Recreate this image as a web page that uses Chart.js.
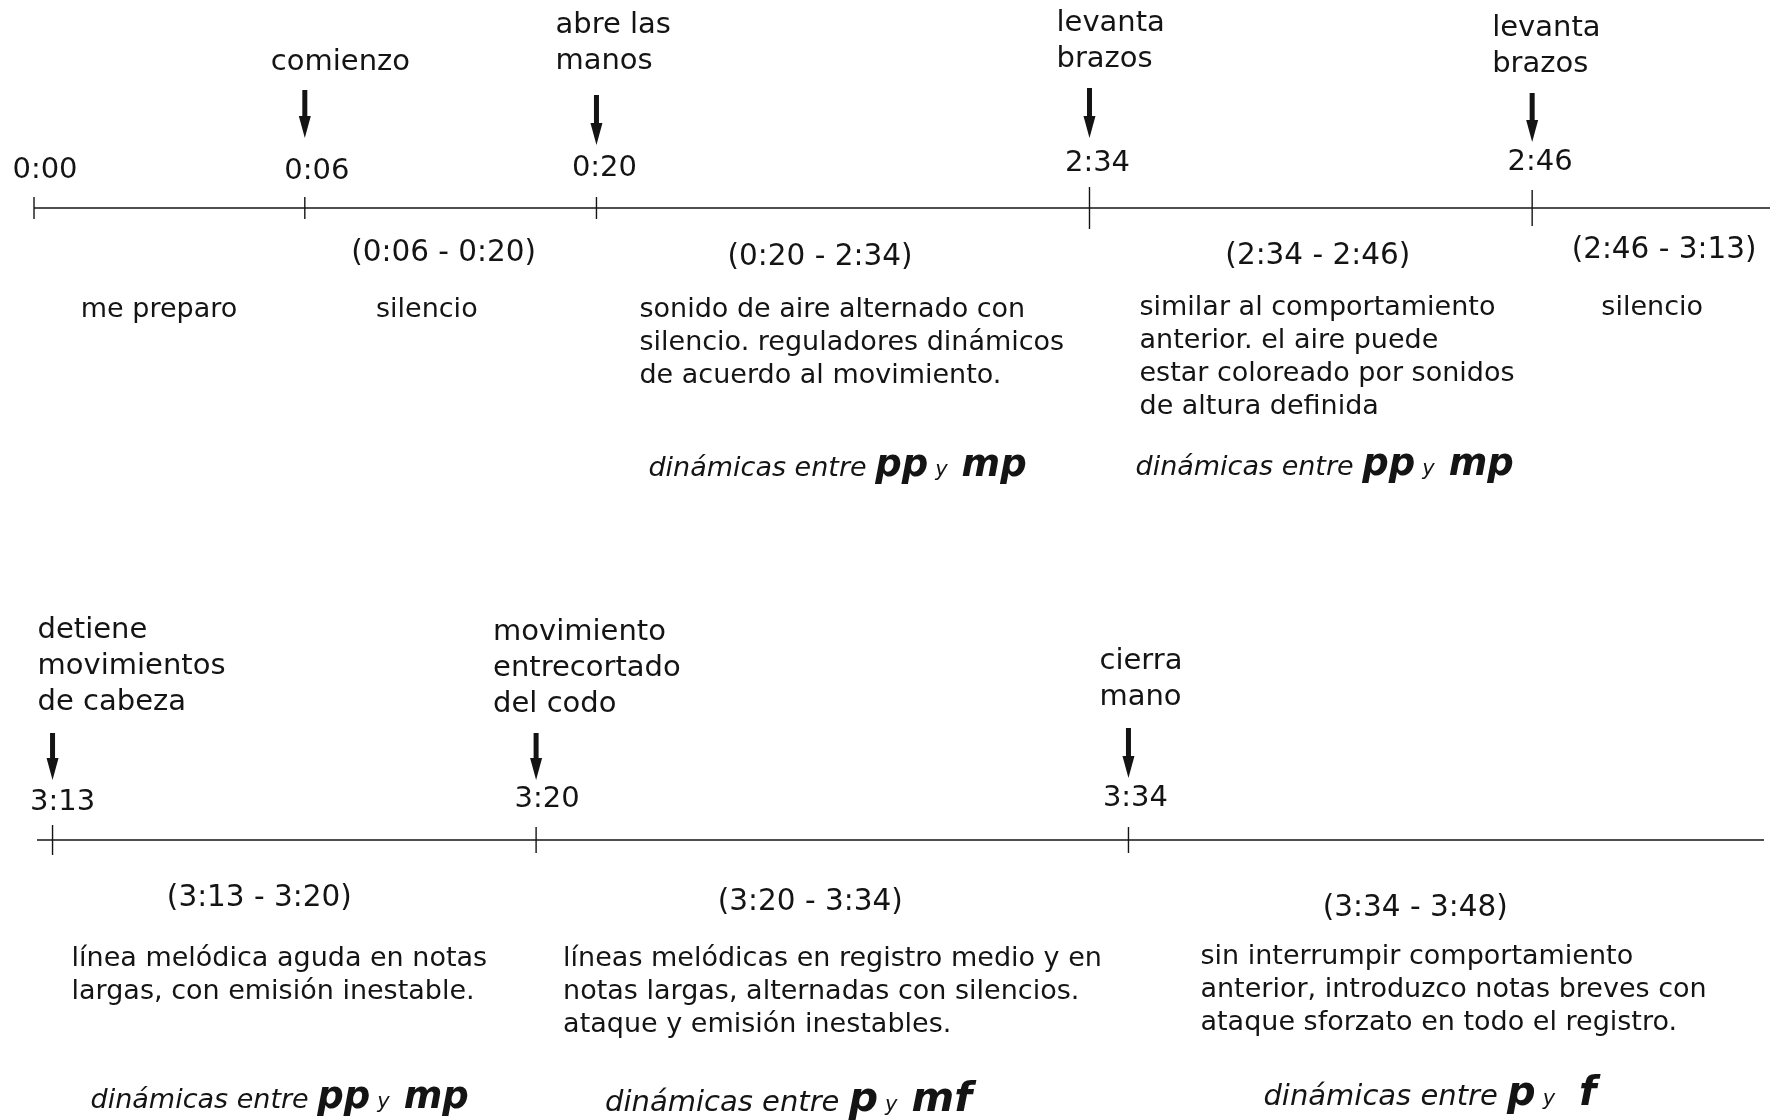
<!DOCTYPE html>
<html>
<head>
<meta charset="utf-8">
<script src="https://cdn.jsdelivr.net/npm/chart.js@4.4.1/dist/chart.umd.min.js"></script>
<style>
  body { margin: 0; background: #fff; }
  canvas { display: block; }
</style>
</head>
<body>
<canvas id="topRow" width="1773" height="560"></canvas>
<canvas id="lowRow" width="1773" height="560"></canvas>
<script>
// fila de arriba: 0:00 - 3:13
const topTimes = ['0:00', '0:06', '0:20', '2:34', '2:46'];
const topAt = [0, 15.6, 32.4, 60.8, 86.3]; // posición sobre la línea (0-100)
const topCues = [[], ['comienzo'], ['abre las', 'manos'], ['levanta', 'brazos'], ['levanta', 'brazos']];
const topSpans = ['', '(0:06 - 0:20)', '(0:20 - 2:34)', '(2:34 - 2:46)', '(2:46 - 3:13)'];
const topNotes = [
  ['me preparo'],
  ['silencio'],
  ['sonido de aire alternado con', 'silencio. reguladores dinámicos', 'de acuerdo al movimiento.'],
  ['similar al comportamiento', 'anterior. el aire puede', 'estar coloreado por sonidos', 'de altura definida'],
  ['silencio']
];
const topDyn = [null, null, ['pp', 'mp'], ['pp', 'mp'], null];

// fila de abajo: 3:13 - 3:48
const lowTimes = ['3:13', '3:20', '3:34'];
const lowAt = [0.9, 28.9, 63.2];
const lowCues = [['detiene', 'movimientos', 'de cabeza'], ['movimiento', 'entrecortado', 'del codo'], ['cierra', 'mano']];
const lowSpans = ['(3:13 - 3:20)', '(3:20 - 3:34)', '(3:34 - 3:48)'];
const lowNotes = [
  ['línea melódica aguda en notas', 'largas, con emisión inestable.'],
  ['líneas melódicas en registro medio y en', 'notas largas, alternadas con silencios.', 'ataque y emisión inestables.'],
  ['sin interrumpir comportamiento', 'anterior, introduzco notas breves con', 'ataque sforzato en todo el registro.']
];
const lowDyn = [['pp', 'mp'], ['p', 'mf'], ['p', 'f']];

// ajustes de dibujo (px respecto a la marca / la línea)
const topLook = {
  pad: { left: 34, right: 3, top: 158, bottom: 302 },
  tickLen: [11, 11, 11, 21, 18],
  stampDx: [11, 12, 8, 8, 8], stampDy: [-38, -37, -40, -45, -46],
  arrow: [false, true, true, true, true],
  arrowTop: [0, -118, -113, -120, -115], arrowTip: [0, -70, -63, -70, -66],
  cueDx: [0, -34, -41, -33, -40], cueDy: [0, -146, -147, -149, -144],
  spanDx: [0, -7, -23, 7, 13], spanDy: [0, 45, 49, 48, 42],
  noteAlign: ['center', 'center', 'left', 'left', 'center'],
  noteDx: [125, 122, 43, 50, 120], noteDy: [102, 102, 102, 100, 100],
  dynDx: [0, 0, 52, 46, 0], dynDy: [0, 0, 259, 258, 0],
  dynText: [27, 27, 27, 27, 27], dynBold: [37, 37, 37, 37, 37], dynGap: [14, 14, 14, 14, 14]
};
const lowLook = {
  pad: { left: 37, right: 9, top: 230, bottom: 230 },
  tickLen: [15, 13, 13],
  stampDx: [10, 11, 7], stampDy: [-38, -41, -42],
  arrow: [true, true, true],
  arrowTop: [-107, -107, -112], arrowTip: [-60, -60, -62],
  cueDx: [-15, -43, -29], cueDy: [-138, -136, -143],
  spanDx: [-35, -22, -31], spanDy: [58, 62, 68],
  noteAlign: ['left', 'left', 'left'],
  noteDx: [19, 27, 72], noteDy: [119, 119, 117],
  dynDx: [38, 69, 135], dynDy: [259, 262, 256],
  dynText: [27, 29, 29], dynBold: [37, 41, 40], dynGap: [14, 14, 24]
};

const INK = '#141414';
const FONT = '"DejaVu Sans", Verdana, sans-serif';

function drawArrow(ctx, x, top, tip) {
  ctx.fillStyle = INK;
  ctx.fillRect(x - 2.5, top, 5, tip - top - 14);
  ctx.beginPath();
  ctx.moveTo(x - 6, tip - 22);
  ctx.lineTo(x + 6, tip - 22);
  ctx.lineTo(x, tip);
  ctx.closePath();
  ctx.fill();
}

function drawDyn(ctx, x, y, pair, textSize, boldSize, gap) {
  ctx.textAlign = 'left';
  ctx.textBaseline = 'alphabetic';
  ctx.font = `italic 400 ${textSize}px ${FONT}`;
  ctx.fillText('dinámicas entre ', x, y);
  x += ctx.measureText('dinámicas entre ').width;
  ctx.font = `italic 700 ${boldSize}px ${FONT}`;
  ctx.fillText(pair[0], x, y);
  x += ctx.measureText(pair[0]).width + 7;
  ctx.font = `italic 400 21px ${FONT}`;
  ctx.fillText('y', x, y);
  x += ctx.measureText('y').width + gap;
  ctx.font = `italic 700 ${boldSize}px ${FONT}`;
  ctx.fillText(pair[1], x, y);
}

function rowText(times, at, cues, spans, notes, dyn, look) {
  return {
    id: 'rowText',
    afterDatasetsDraw(chart) {
      const ctx = chart.ctx;
      const xs = chart.scales.x;
      const y0 = chart.scales.y.getPixelForValue(0);
      const ends = at.concat([100]);
      ctx.save();
      at.forEach((v, i) => {
        const x = xs.getPixelForValue(v);
        const next = xs.getPixelForValue(ends[i + 1]);
        ctx.fillStyle = INK;

        ctx.textBaseline = 'middle';
        ctx.textAlign = 'center';
        ctx.font = `29px ${FONT}`;
        ctx.fillText(times[i], x + look.stampDx[i], y0 + look.stampDy[i]);

        if (look.arrow[i]) drawArrow(ctx, x, y0 + look.arrowTop[i], y0 + look.arrowTip[i]);

        ctx.textBaseline = 'middle';
        ctx.textAlign = 'left';
        ctx.font = `29px ${FONT}`;
        const c = cues[i];
        c.forEach((t, j) => {
          ctx.fillText(t, x + look.cueDx[i], y0 + look.cueDy[i] - (c.length - 1 - j) * 36);
        });

        if (spans[i]) {
          ctx.textAlign = 'center';
          ctx.font = `29.5px ${FONT}`;
          ctx.fillText(spans[i], (x + next) / 2 + look.spanDx[i], y0 + look.spanDy[i]);
        }

        ctx.font = `27px ${FONT}`;
        ctx.textAlign = look.noteAlign[i];
        notes[i].forEach((t, j) => {
          ctx.fillText(t, x + look.noteDx[i], y0 + look.noteDy[i] + j * 33);
        });

        if (dyn[i]) {
          drawDyn(ctx, x + look.dynDx[i], y0 + look.dynDy[i] + 9, dyn[i],
            look.dynText[i], look.dynBold[i], look.dynGap[i]);
        }
      });
      ctx.restore();
    }
  };
}

function makeRow(id, times, at, cues, spans, notes, dyn, look) {
  return new Chart(document.getElementById(id), {
    type: 'scatter',
    data: {
      datasets: [
        {
          type: 'line',
          data: [{ x: 0, y: 0 }, { x: 100, y: 0 }],
          borderColor: INK,
          borderWidth: 1.6,
          pointRadius: 0,
          clip: false
        },
        {
          data: at.map(v => ({ x: v, y: 0 })),
          pointStyle: 'line',
          rotation: 90,
          radius: look.tickLen,
          borderColor: INK,
          borderWidth: 1.4,
          clip: false
        }
      ]
    },
    options: {
      responsive: false,
      animation: false,
      events: [],
      layout: { padding: look.pad, autoPadding: false },
      plugins: { legend: { display: false }, tooltip: { enabled: false } },
      scales: {
        x: { type: 'linear', min: 0, max: 100, display: false },
        y: { min: -1, max: 1, display: false }
      }
    },
    plugins: [rowText(times, at, cues, spans, notes, dyn, look)]
  });
}

makeRow('topRow', topTimes, topAt, topCues, topSpans, topNotes, topDyn, topLook);
makeRow('lowRow', lowTimes, lowAt, lowCues, lowSpans, lowNotes, lowDyn, lowLook);
</script>
</body>
</html>
